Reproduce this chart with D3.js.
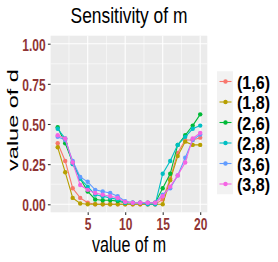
<!DOCTYPE html>
<html>
<head>
<meta charset="utf-8">
<script src="https://cdn.jsdelivr.net/npm/d3@7"></script>
<style>
  body { margin: 0; background: #fff; }
  text { font-family: "Liberation Sans", Arial, sans-serif; }
</style>
</head>
<body>
<div id="chart"></div>
<script>
// m values on the x axis
var mValues = [1, 2, 3, 4, 5, 6, 7, 8, 9, 10, 11, 12, 13, 14, 15, 16, 17, 18, 19, 20];

// series names (legend) and colours
var seriesNames = ["(1,6)", "(1,8)", "(2,6)", "(2,8)", "(3,6)", "(3,8)"];
var seriesColors = ["#F8766D", "#B79F00", "#00BA38", "#00BFC4", "#619CFF", "#F564E3"];

// value of d per series
var d16 = [0.38, 0.27, 0.10, 0.04, 0.01, 0, 0, 0, 0, 0, 0, 0, 0, 0, 0.03, 0.16, 0.32, 0.40, 0.40, 0.415];
var d18 = [0.355, 0.20, 0.04, 0.005, 0, 0, 0, 0, 0, 0, 0, 0, 0, 0, 0, 0.15, 0.30, 0.39, 0.37, 0.37];
var d26 = [0.48, 0.38, 0.26, 0.16, 0.08, 0.03, 0.025, 0.025, 0.02, 0.01, 0.01, 0.01, 0.01, 0.01, 0.10, 0.19, 0.37, 0.43, 0.49, 0.56];
var d28 = [0.47, 0.41, 0.25, 0.16, 0.11, 0.06, 0.05, 0.04, 0.03, 0.01, 0.01, 0.01, 0, 0, 0.19, 0.27, 0.37, 0.42, 0.47, 0.49];
var d36 = [0.42, 0.40, 0.27, 0.17, 0.14, 0.09, 0.08, 0.07, 0.05, 0.02, 0.01, 0.01, 0.01, 0.01, 0.06, 0.10, 0.18, 0.29, 0.40, 0.435];
var d38 = [0.43, 0.41, 0.26, 0.12, 0.09, 0.07, 0.06, 0.05, 0.04, 0.015, 0.01, 0.01, 0.01, 0.01, 0.05, 0.11, 0.18, 0.26, 0.41, 0.445];
var seriesValues = [d16, d18, d26, d28, d36, d38];

// tick labels
var yTicks = [0, 0.25, 0.5, 0.75, 1];
var yMinor = [0.125, 0.375, 0.625, 0.875];
var xTicks = [5, 10, 15, 20];
var xMinor = [2.5, 7.5, 12.5, 17.5];

var w = 278, h = 262;
var tickColor = "#8f3434";

//panel box
var panel = { left: 50.6, right: 207.3, top: 35.7, bottom: 212.3 };

var x = d3.scaleLinear().domain([1, 20]).range([57.7, 200.2]);
var y = d3.scaleLinear().domain([0, 1]).range([204.3, 43.7]);

var svg = d3.select("#chart")
    .append("svg")
    .attr("width", w)
    .attr("height", h);

// helper for horizontally condensed text
function addText(parent, str, tx, ty, size, sx, anchor, weight, fill) {
    return parent.append("text")
        .text(str)
        .attr("transform", "translate(" + tx + "," + ty + ") scale(" + sx + ",1)")
        .attr("font-size", size)
        .attr("font-weight", weight || "normal")
        .attr("text-anchor", anchor)
        .style("fill", fill || "#000");
}

// panel background
svg.append("rect")
    .attr("x", panel.left)
    .attr("y", panel.top)
    .attr("width", panel.right - panel.left)
    .attr("height", panel.bottom - panel.top)
    .attr("fill", "#EBEBEB");

var grid = svg.append("g");
grid.selectAll(".yminor").data(yMinor).enter().append("line")
    .attr("x1", panel.left).attr("x2", panel.right)
    .attr("y1", function (d) { return y(d); }).attr("y2", function (d) { return y(d); })
    .attr("stroke", "#fff").attr("stroke-width", 0.55);
grid.selectAll(".xminor").data(xMinor).enter().append("line")
    .attr("y1", panel.top).attr("y2", panel.bottom)
    .attr("x1", function (d) { return x(d); }).attr("x2", function (d) { return x(d); })
    .attr("stroke", "#fff").attr("stroke-width", 0.55);
grid.selectAll(".ymajor").data(yTicks).enter().append("line")
    .attr("x1", panel.left).attr("x2", panel.right)
    .attr("y1", function (d) { return y(d); }).attr("y2", function (d) { return y(d); })
    .attr("stroke", "#fff").attr("stroke-width", 1.1);
grid.selectAll(".xmajor").data(xTicks).enter().append("line")
    .attr("y1", panel.top).attr("y2", panel.bottom)
    .attr("x1", function (d) { return x(d); }).attr("x2", function (d) { return x(d); })
    .attr("stroke", "#fff").attr("stroke-width", 1.1);

// axes
var yAxis = svg.append("g")
    .attr("transform", "translate(" + panel.left + ",0)")
    .call(d3.axisLeft(y).tickValues(yTicks).tickSize(2.7).tickFormat(d3.format(".2f")));
var xAxis = svg.append("g")
    .attr("transform", "translate(0," + panel.bottom + ")")
    .call(d3.axisBottom(x).tickValues(xTicks).tickSize(2.7));

[yAxis, xAxis].forEach(function (g) {
    g.select(".domain").remove();
    g.selectAll(".tick line").attr("stroke", "#333").attr("stroke-width", 1.07);
    g.selectAll(".tick text")
        .attr("font-family", "Liberation Sans, Arial, sans-serif")
        .attr("font-size", 16)
        .attr("font-weight", "bold")
        .attr("fill", tickColor)
        .attr("x", null).attr("y", null).attr("dy", null);
});
yAxis.selectAll(".tick text")
    .attr("text-anchor", "end")
    .attr("transform", "translate(-4.9,6.6) scale(0.75,1)");
xAxis.selectAll(".tick text")
    .attr("text-anchor", "middle")
    .attr("transform", "translate(0,17.2) scale(0.75,1)");

// lines and points
var line = d3.line()
    .x(function (d, i) { return x(mValues[i]); })
    .y(function (d) { return y(d); });

var plot = svg.append("g");
seriesValues.forEach(function (vals, k) {
    plot.append("path")
        .datum(vals)
        .attr("d", line)
        .attr("fill", "none")
        .attr("stroke", seriesColors[k])
        .attr("stroke-width", 1.1);
    plot.selectAll(".pt" + k).data(vals).enter().append("circle")
        .attr("cx", function (d, i) { return x(mValues[i]); })
        .attr("cy", function (d) { return y(d); })
        .attr("r", 2.2)
        .attr("fill", seriesColors[k]);
});

// title and axis titles
addText(svg, "Sensitivity of m", 129, 22.7, 22, 0.79, "middle");
addText(svg, "value of m", 129, 252.4, 22, 0.73, "middle");
svg.append("text")
    .text("value of d")
    .attr("transform", "translate(18,120) scale(0.65,1) rotate(-90)")
    .attr("font-size", 23.5)
    .attr("text-anchor", "middle")
    .style("fill", "#000");

// legend
var legend = svg.append("g");
var rowH = 20.5, row0 = 81.5;
legend.append("rect")
    .attr("x", 217).attr("y", row0 - rowH / 2)
    .attr("width", 16).attr("height", rowH * seriesNames.length)
    .attr("fill", "#F2F2F2");
seriesNames.forEach(function (name, k) {
    var cy = row0 + k * rowH;
    legend.append("line")
        .attr("x1", 219.5).attr("x2", 231.5)
        .attr("y1", cy).attr("y2", cy)
        .attr("stroke", seriesColors[k]).attr("stroke-width", 1.1);
    legend.append("circle")
        .attr("cx", 225.5).attr("cy", cy).attr("r", 2.2)
        .attr("fill", seriesColors[k]);
    addText(legend, name, 237, cy + 7.3, 19, 0.845, "start", "bold");
});
</script>
</body>
</html>
